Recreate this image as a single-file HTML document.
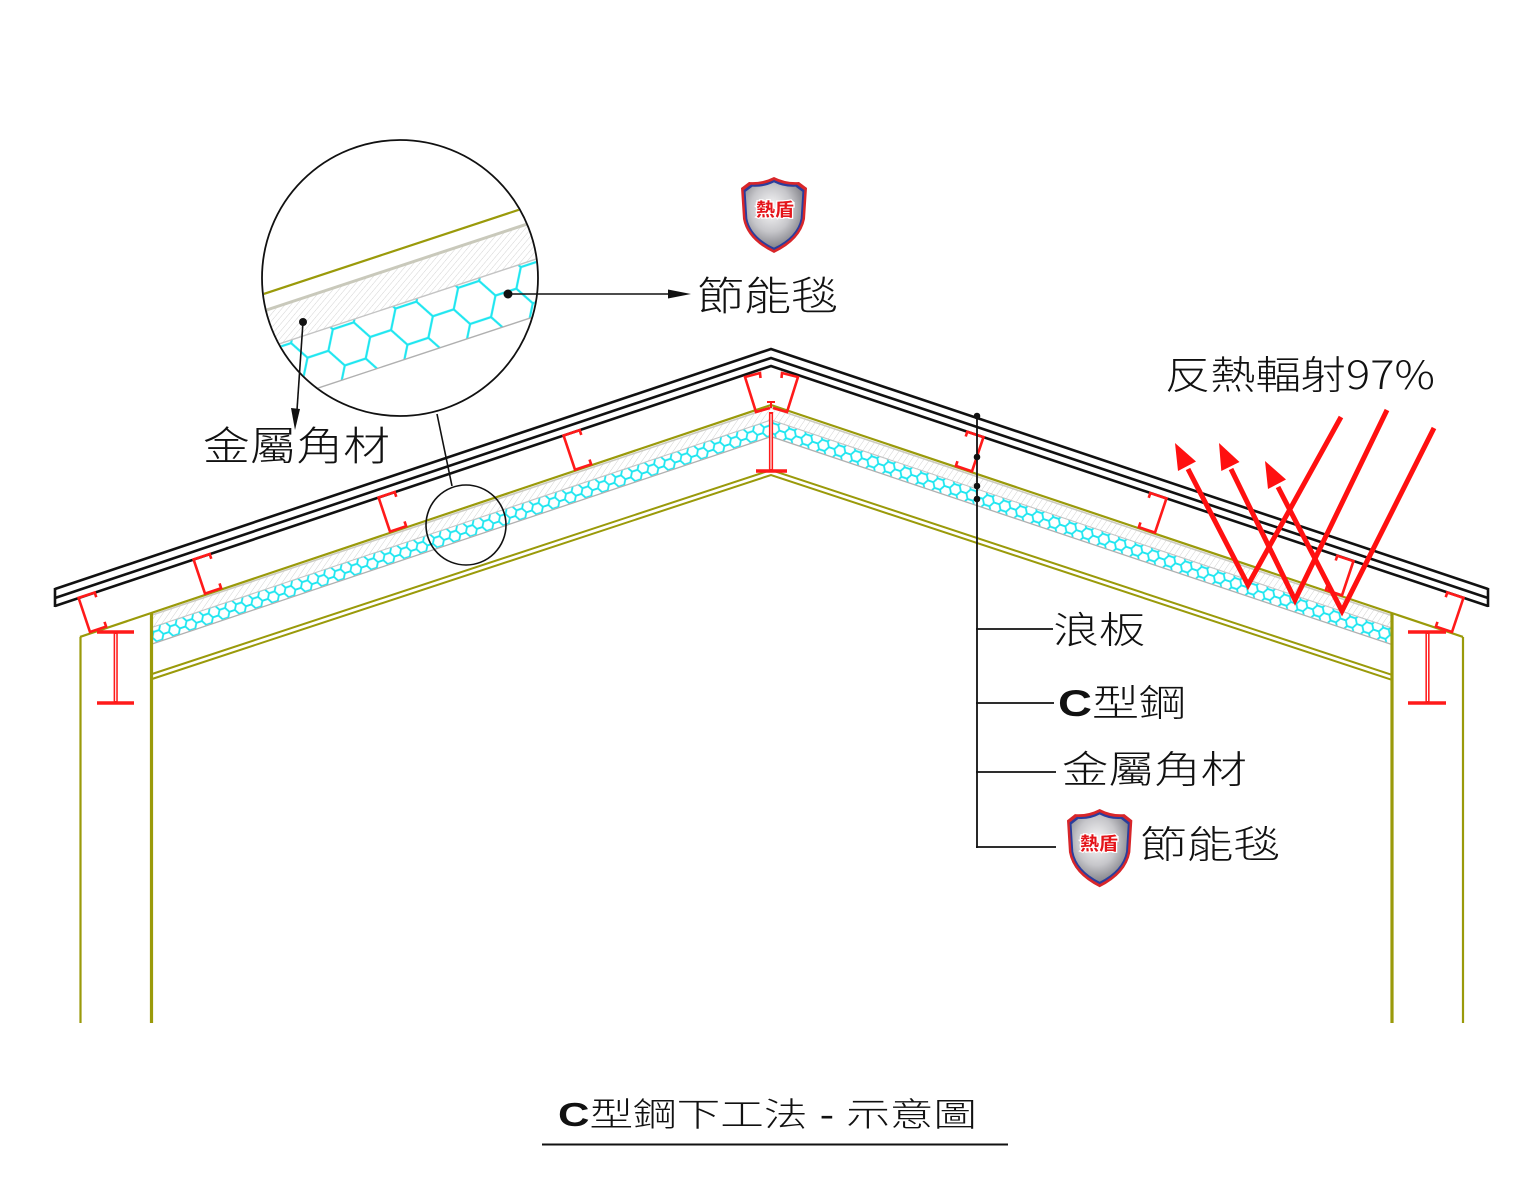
<!DOCTYPE html>
<html>
<head>
<meta charset="utf-8">
<style>
html,body{margin:0;padding:0;background:#fff;overflow:hidden;}
svg{display:block;}
.cjk{font-family:"Liberation Sans","Noto Sans CJK TC","Noto Sans CJK SC",sans-serif;font-weight:300;fill:#111;}
</style>
</head>
<body>
<svg width="1535" height="1181" viewBox="0 0 1535 1181" xmlns="http://www.w3.org/2000/svg">
<defs>
  <pattern id="hexL" width="17.4" height="10.046" patternUnits="userSpaceOnUse" patternTransform="rotate(-18.52)">
    <path d="M2.9,5.023 L5.8,0 L11.6,0 L14.5,5.023 L11.6,10.046 L5.8,10.046 Z M0,5.023 L2.9,5.023 M14.5,5.023 L17.4,5.023" fill="none" stroke="#1fe6f0" stroke-width="1.8"/>
  </pattern>
  <pattern id="hexR" width="17.4" height="10.046" patternUnits="userSpaceOnUse" patternTransform="rotate(18.52)">
    <path d="M2.9,5.023 L5.8,0 L11.6,0 L14.5,5.023 L11.6,10.046 L5.8,10.046 Z M0,5.023 L2.9,5.023 M14.5,5.023 L17.4,5.023" fill="none" stroke="#1fe6f0" stroke-width="1.8"/>
  </pattern>
  <pattern id="hexBig" width="66" height="38.1" patternUnits="userSpaceOnUse" patternTransform="translate(300,300) rotate(-18.3)">
    <path d="M11,19.05 L22,0 L44,0 L55,19.05 L44,38.1 L22,38.1 Z M0,19.05 L11,19.05 M55,19.05 L66,19.05" fill="none" stroke="#1fe6f0" stroke-width="2.2"/>
  </pattern>
  <pattern id="hatch" width="5" height="10" patternUnits="userSpaceOnUse" patternTransform="rotate(35)">
    <line x1="0" y1="0" x2="0" y2="10" stroke="#d2d2d2" stroke-width="1"/>
  </pattern>
  <pattern id="hatchBig" width="4.5" height="10" patternUnits="userSpaceOnUse" patternTransform="rotate(40)">
    <line x1="0" y1="0" x2="0" y2="10" stroke="#cfcfcf" stroke-width="0.9"/>
  </pattern>
  <radialGradient id="silver" cx="0.45" cy="0.4" r="0.65">
    <stop offset="0" stop-color="#fbfbfb"/>
    <stop offset="0.55" stop-color="#c6c6ca"/>
    <stop offset="1" stop-color="#78787f"/>
  </radialGradient>
  <clipPath id="magClip"><circle cx="400" cy="278" r="137"/></clipPath>
  <g id="sh">
    <path d="M1,11 L9,5 Q22,6 34,0 Q46,6 59,5 L67,11 L65,42 Q61,63 34,76 Q7,63 3,42 Z" fill="#d8262a"/>
    <path d="M1,11 L9,5 Q22,6 34,0 Q46,6 59,5 L67,11 L65,42 Q61,63 34,76 Q7,63 3,42 Z" transform="translate(34,38) scale(0.92) translate(-34,-38)" fill="#2a3d9c"/>
    <path d="M1,11 L9,5 Q22,6 34,0 Q46,6 59,5 L67,11 L65,42 Q61,63 34,76 Q7,63 3,42 Z" transform="translate(34,38) scale(0.86) translate(-34,-38)" fill="url(#silver)"/>
  </g>
</defs>

<!-- insulation bands -->
<polygon points="152,614.4 771,407 771,420 152,627.4" fill="url(#hatch)"/>
<polygon points="771,407 1391,614.7 1391,627.7 771,420" fill="url(#hatch)"/>
<polygon points="152,627.4 771,420 771,436 152,643.4" fill="url(#hexL)"/>
<polygon points="771,420 1391,627.7 1391,643.7 771,436" fill="url(#hexR)"/>
<polyline points="152,615 771,407.6 1391,615.3" fill="none" stroke="#cbcbc2" stroke-width="1.6"/>
<polyline points="152,627.4 771,420 1391,627.7" fill="none" stroke="#c4c4c4" stroke-width="1.1"/>
<polyline points="152,644 771,436.6 1391,644.3" fill="none" stroke="#b0b0b0" stroke-width="1.3"/>

<!-- olive structure -->
<g fill="none" stroke="#9a9a0a">
  <polyline points="80,636.9 771,405 1463,636.9" stroke-width="2.2"/>
  <polyline points="152,674 771,470 1391,674.6" stroke-width="2"/>
  <polyline points="152,679 771,475 1391,679.6" stroke-width="2"/>
  <line x1="80.5" y1="637" x2="80.5" y2="1023" stroke-width="2.2"/>
  <line x1="151.5" y1="613" x2="151.5" y2="1023" stroke-width="3.2"/>
  <line x1="1392" y1="613" x2="1392" y2="1023" stroke-width="3.2"/>
  <line x1="1463" y1="637" x2="1463" y2="1023" stroke-width="2.2"/>
</g>

<!-- roof panel -->
<g fill="none" stroke="#111" stroke-width="2.6" stroke-linejoin="miter">
  <polyline points="55,589 771,349 1488,589"/>
  <polyline points="55,598 771,358 1488,598"/>
  <polyline points="55,606 771,366 1488,606"/>
  <line x1="55" y1="588" x2="55" y2="607"/>
  <line x1="1488" y1="588" x2="1488" y2="607"/>
</g>

<!-- C purlins -->
<g fill="none" stroke="#ff1a1a" stroke-width="2.6" stroke-linejoin="miter">
  <path transform="translate(90,632) rotate(-18.52)" d="M17,-5 L17,0 L0,0 L0,-36 L17,-36 L17,-31"/>
  <path transform="translate(205,593.6) rotate(-18.52)" d="M17,-5 L17,0 L0,0 L0,-36 L17,-36 L17,-31"/>
  <path transform="translate(390,531.6) rotate(-18.52)" d="M17,-5 L17,0 L0,0 L0,-36 L17,-36 L17,-31"/>
  <path transform="translate(575,469.7) rotate(-18.52)" d="M17,-5 L17,0 L0,0 L0,-36 L17,-36 L17,-31"/>
  <path transform="translate(972,471.3) rotate(18.52)" d="M-17,-5 L-17,0 L0,0 L0,-36 L-17,-36 L-17,-31"/>
  <path transform="translate(1155,532.6) rotate(18.52)" d="M-17,-5 L-17,0 L0,0 L0,-36 L-17,-36 L-17,-31"/>
  <path transform="translate(1342,595.3) rotate(18.52)" d="M-17,-5 L-17,0 L0,0 L0,-36 L-17,-36 L-17,-31"/>
  <path transform="translate(1452,632) rotate(18.52)" d="M-17,-5 L-17,0 L0,0 L0,-36 L-17,-36 L-17,-31"/>
  <!-- apex purlin -->
  <path d="M760.5,378 L760,373 L745,377 L756,412 L770,408"/>
  <path d="M781.5,378 L782,373 L798,377 L787,412 L773,408"/>
  <path d="M767,402 L775,402 M771,402 L771,408" stroke-width="2"/>
</g>

<!-- I beams -->
<g stroke="#ff1a1a" fill="none">
  <line x1="97" y1="632" x2="134" y2="632" stroke-width="3.4"/>
  <line x1="97" y1="703" x2="134" y2="703" stroke-width="3.4"/>
  <line x1="115.7" y1="632" x2="115.7" y2="703" stroke-width="4.2"/>
  <line x1="1408" y1="632" x2="1446" y2="632" stroke-width="3.4"/>
  <line x1="1408" y1="703" x2="1446" y2="703" stroke-width="3.4"/>
  <line x1="1427.5" y1="632" x2="1427.5" y2="703" stroke-width="4.2"/>
  <line x1="771" y1="412" x2="771" y2="471" stroke-width="4.2"/>
  <line x1="756" y1="471" x2="787" y2="471" stroke-width="3.4"/>
</g>
<g stroke="#fff" stroke-width="1.1">
  <line x1="115.7" y1="634" x2="115.7" y2="701"/>
  <line x1="1427.5" y1="634" x2="1427.5" y2="701"/>
  <line x1="771" y1="414" x2="771" y2="469"/>
</g>

<!-- small magnifier circle + connector -->
<circle cx="466" cy="525" r="40" fill="none" stroke="#111" stroke-width="1.6"/>
<line x1="437" y1="414" x2="452" y2="486" stroke="#111" stroke-width="1.6"/>

<!-- big magnifier -->
<circle cx="400" cy="278" r="138" fill="#fff"/>
<g clip-path="url(#magClip)">
  <polygon points="200,332 600,200 600,238 200,370" fill="url(#hatchBig)"/>
  <polygon points="200,370 600,238 600,295 200,427" fill="url(#hexBig)"/>
  <line x1="200" y1="315" x2="600" y2="183" stroke="#9a9a0a" stroke-width="2.2"/>
  <line x1="200" y1="332" x2="600" y2="200" stroke="#c9c9bb" stroke-width="3"/>
  <line x1="200" y1="370" x2="600" y2="238" stroke="#c4c4c4" stroke-width="1.4"/>
  <line x1="200" y1="427" x2="600" y2="295" stroke="#b0b0b0" stroke-width="1.4"/>
</g>
<circle cx="400" cy="278" r="138" fill="none" stroke="#111" stroke-width="1.8"/>

<!-- magnifier callouts -->
<circle cx="303" cy="322" r="4" fill="#111"/>
<line x1="303" y1="322" x2="297" y2="410" stroke="#111" stroke-width="1.6"/>
<polygon points="295,430 291,408 300,409" fill="#111"/>
<circle cx="508" cy="294" r="4.5" fill="#111"/>
<line x1="508" y1="294" x2="670" y2="294" stroke="#111" stroke-width="1.6"/>
<polygon points="691,294 668,289.5 668,298.5" fill="#111"/>

<!-- red reflection arrows -->
<g stroke="#ff1010" stroke-width="5" fill="none" stroke-linejoin="miter">
  <polyline points="1341,417 1248,585 1188,469"/>
  <polyline points="1387,410 1295,600 1231,469"/>
  <polyline points="1434,428 1342,611 1278,487"/>
</g>
<g fill="#ff1010">
  <polygon points="1175,443 1196,461.5 1178,471"/>
  <polygon points="1219,443 1239.5,462 1221.3,471"/>
  <polygon points="1265,461 1286,479.5 1268,489"/>
</g>

<!-- right leader -->
<g stroke="#111" stroke-width="1.8">
  <line x1="977" y1="415" x2="977" y2="848"/>
  <line x1="976" y1="629" x2="1053" y2="629"/>
  <line x1="976" y1="703" x2="1054" y2="703"/>
  <line x1="976" y1="772" x2="1056" y2="772"/>
  <line x1="976" y1="847" x2="1056" y2="847"/>
</g>
<g fill="#111">
  <circle cx="977" cy="416" r="3.3"/>
  <circle cx="977" cy="457" r="3.3"/>
  <circle cx="977" cy="486" r="3.3"/>
  <circle cx="977" cy="499" r="3.3"/>
</g>

<!-- shields -->
<use href="#sh" transform="translate(740,177)"/>
<text x="775" y="216" font-family="'Liberation Sans','Noto Sans CJK TC',sans-serif" font-weight="bold" font-size="18" text-anchor="middle" textLength="38" lengthAdjust="spacingAndGlyphs" fill="#e4141a" stroke="#fff" stroke-width="2.4" paint-order="stroke">熱盾</text>
<use href="#sh" transform="translate(1066,809) scale(0.99,1.03)"/>
<text x="1099" y="850" font-family="'Liberation Sans','Noto Sans CJK TC',sans-serif" font-weight="bold" font-size="18" text-anchor="middle" textLength="38" lengthAdjust="spacingAndGlyphs" fill="#e4141a" stroke="#fff" stroke-width="2.4" paint-order="stroke">熱盾</text>

<!-- labels -->
<text class="cjk" x="697" y="310" font-size="40" textLength="141" lengthAdjust="spacingAndGlyphs">節能毯</text>
<text class="cjk" x="203" y="460" font-size="40" textLength="187" lengthAdjust="spacingAndGlyphs">金屬角材</text>
<text class="cjk" x="1165" y="389" font-size="39" textLength="270" lengthAdjust="spacingAndGlyphs">反熱輻射<tspan font-family="'Noto Sans CJK TC','Noto Sans CJK SC',sans-serif" font-weight="300">97%</tspan></text>
<text class="cjk" x="1053" y="643" font-size="37" textLength="92" lengthAdjust="spacingAndGlyphs">浪板</text>
<text class="cjk" x="1058" y="716" font-size="37" textLength="128" lengthAdjust="spacingAndGlyphs"><tspan font-family="'Liberation Sans',sans-serif" font-weight="bold">C</tspan>型鋼</text>
<text class="cjk" x="1062" y="783" font-size="38" textLength="185" lengthAdjust="spacingAndGlyphs">金屬角材</text>
<text class="cjk" x="1140" y="858" font-size="38" textLength="140" lengthAdjust="spacingAndGlyphs">節能毯</text>

<!-- title -->
<text class="cjk" x="558" y="1126" font-size="33" textLength="419" lengthAdjust="spacingAndGlyphs"><tspan font-family="'Liberation Sans',sans-serif" font-weight="bold">C</tspan>型鋼下工法 - 示意圖</text>
<line x1="542" y1="1144.5" x2="1008" y2="1144.5" stroke="#111" stroke-width="2"/>
</svg>
</body>
</html>
